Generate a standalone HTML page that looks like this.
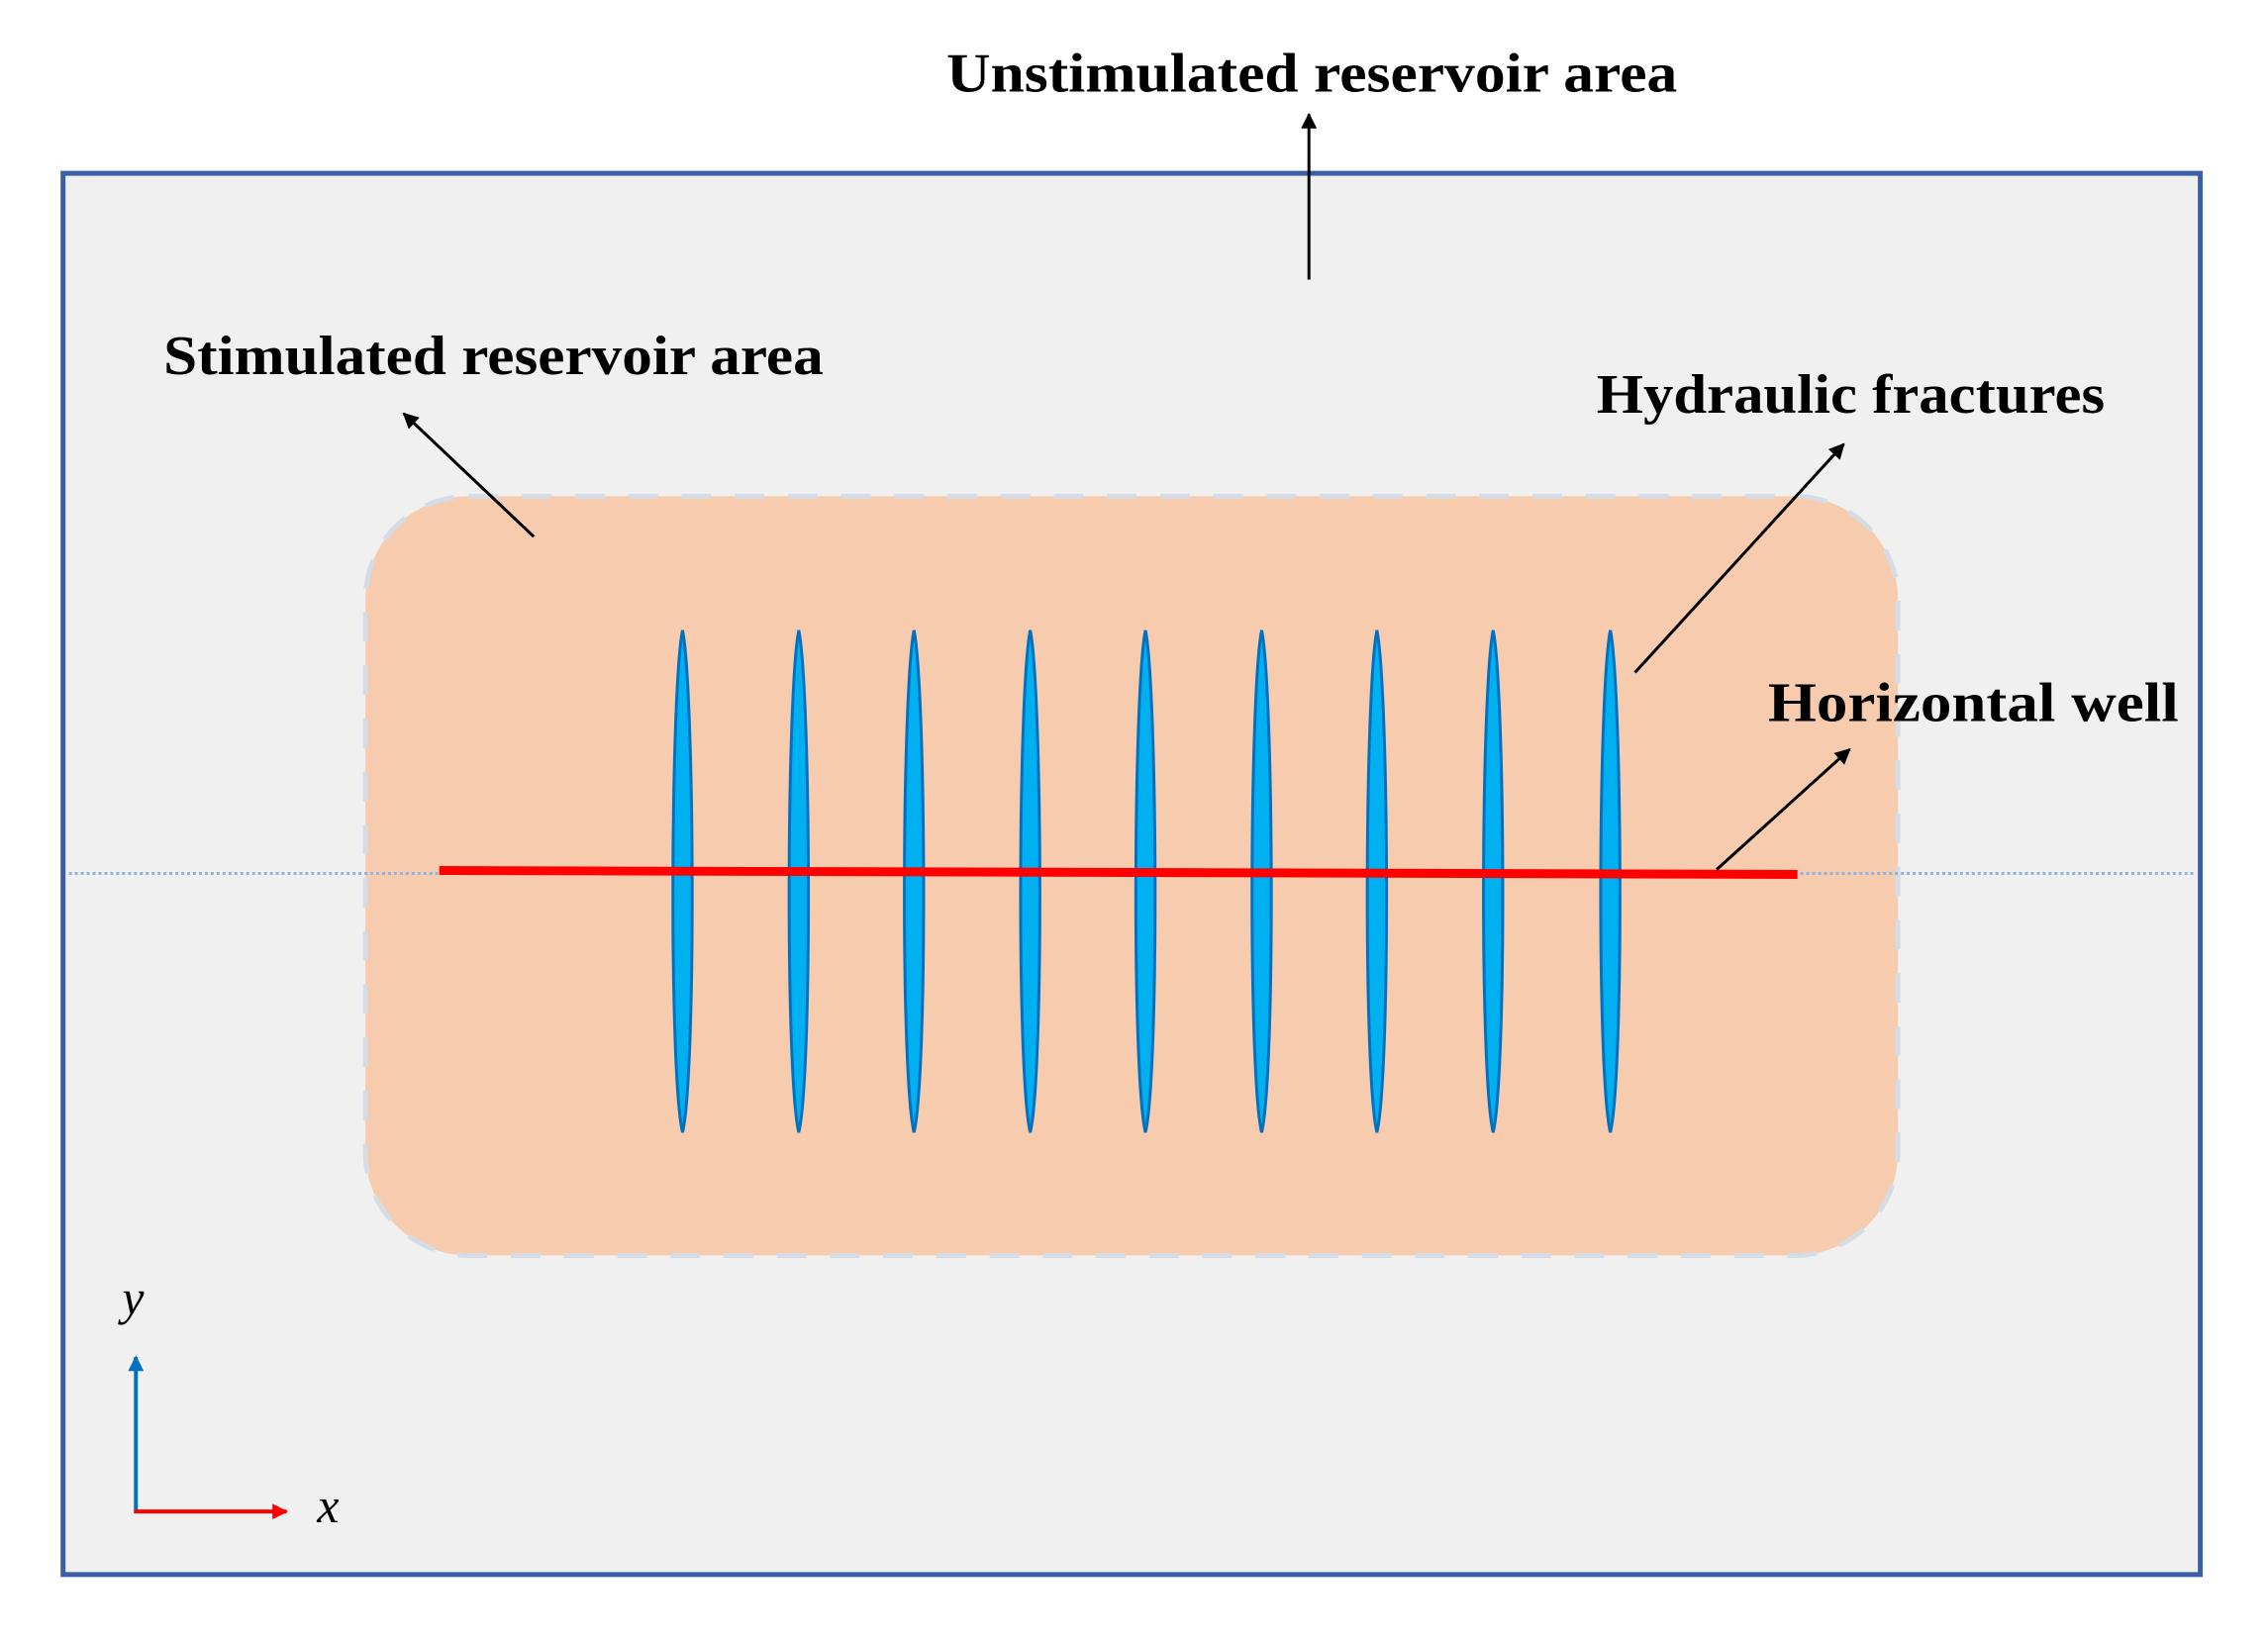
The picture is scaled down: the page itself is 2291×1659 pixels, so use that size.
<!DOCTYPE html>
<html><head><meta charset="utf-8"><style>
html,body{margin:0;padding:0;background:#fff;}
svg{display:block;}
text{font-family:"Liberation Serif",serif;font-weight:bold;fill:#000;}
text.it{font-weight:normal;font-style:italic;}
</style></head><body>
<svg width="2291" height="1659" viewBox="0 0 2291 1659" xmlns="http://www.w3.org/2000/svg">
<defs>
<marker id="ahk" viewBox="0 0 10 10" refX="9" refY="5" markerWidth="18" markerHeight="16" orient="auto" markerUnits="userSpaceOnUse"><path d="M0,0 L10,5 L0,10 z" fill="#000"/></marker>
<marker id="ahb" viewBox="0 0 10 10" refX="9" refY="5" markerWidth="20" markerHeight="16" orient="auto" markerUnits="userSpaceOnUse"><path d="M0,0 L10,5 L0,10 z" fill="#0070c0"/></marker>
<marker id="ahr" viewBox="0 0 10 10" refX="9" refY="5" markerWidth="20" markerHeight="16" orient="auto" markerUnits="userSpaceOnUse"><path d="M0,0 L10,5 L0,10 z" fill="#ff0000"/></marker>
</defs>
<rect x="0" y="0" width="2291" height="1659" fill="#fff"/>
<g transform="scale(0.9949)">
<rect x="64" y="176" width="2170" height="1423" fill="#f0f0f0" stroke="#3a5ea8" stroke-width="5"/>
<text x="1332" y="93" font-size="56" text-anchor="middle" textLength="742" lengthAdjust="spacingAndGlyphs">Unstimulated reservoir area</text>
<line x1="1329" y1="284" x2="1329" y2="116" stroke="#000" stroke-width="3" marker-end="url(#ahk)"/>
<rect x="371" y="504" width="1556" height="771" rx="105" ry="105" fill="#f7cbad" stroke="#d6dce5" stroke-width="5" stroke-dasharray="30 24"/>
<line x1="70" y1="887" x2="2229" y2="887" stroke="#8db4e2" stroke-width="3" stroke-dasharray="3 3"/>
<g fill="#00b0f0" stroke="#0070c0" stroke-width="3">
<path d="M693,640 C705,700 707,1090 693,1150 C679,1090 681,700 693,640 Z"/>
<path d="M811,640 C823,700 825,1090 811,1150 C797,1090 799,700 811,640 Z"/>
<path d="M928,640 C940,700 942,1090 928,1150 C914,1090 916,700 928,640 Z"/>
<path d="M1046,640 C1058,700 1060,1090 1046,1150 C1032,1090 1034,700 1046,640 Z"/>
<path d="M1163,640 C1175,700 1177,1090 1163,1150 C1149,1090 1151,700 1163,640 Z"/>
<path d="M1281,640 C1293,700 1295,1090 1281,1150 C1267,1090 1269,700 1281,640 Z"/>
<path d="M1398,640 C1410,700 1412,1090 1398,1150 C1384,1090 1386,700 1398,640 Z"/>
<path d="M1516,640 C1528,700 1530,1090 1516,1150 C1502,1090 1504,700 1516,640 Z"/>
<path d="M1635,640 C1647,700 1649,1090 1635,1150 C1621,1090 1623,700 1635,640 Z"/>
</g>
<line x1="446" y1="884" x2="1825" y2="888" stroke="#ff0000" stroke-width="9"/>
<text x="166" y="380" font-size="56" textLength="670" lengthAdjust="spacingAndGlyphs">Stimulated reservoir area</text>
<line x1="542" y1="545" x2="410" y2="420" stroke="#000" stroke-width="3" marker-end="url(#ahk)"/>
<text x="1621" y="419" font-size="56" textLength="516" lengthAdjust="spacingAndGlyphs">Hydraulic fractures</text>
<line x1="1660" y1="683" x2="1872" y2="451" stroke="#000" stroke-width="3" marker-end="url(#ahk)"/>
<text x="1795" y="732" font-size="56" textLength="417" lengthAdjust="spacingAndGlyphs">Horizontal well</text>
<line x1="1743" y1="883" x2="1878" y2="761" stroke="#000" stroke-width="3" marker-end="url(#ahk)"/>
<line x1="138" y1="1535" x2="138" y2="1378" stroke="#0070c0" stroke-width="4" marker-end="url(#ahb)"/>
<line x1="136" y1="1535" x2="291" y2="1535" stroke="#ff0000" stroke-width="4" marker-end="url(#ahr)"/>
<text class="it" x="124" y="1335" font-size="50">y</text>
<text class="it" x="322" y="1546" font-size="50">x</text>
</g>
</svg>
</body></html>
